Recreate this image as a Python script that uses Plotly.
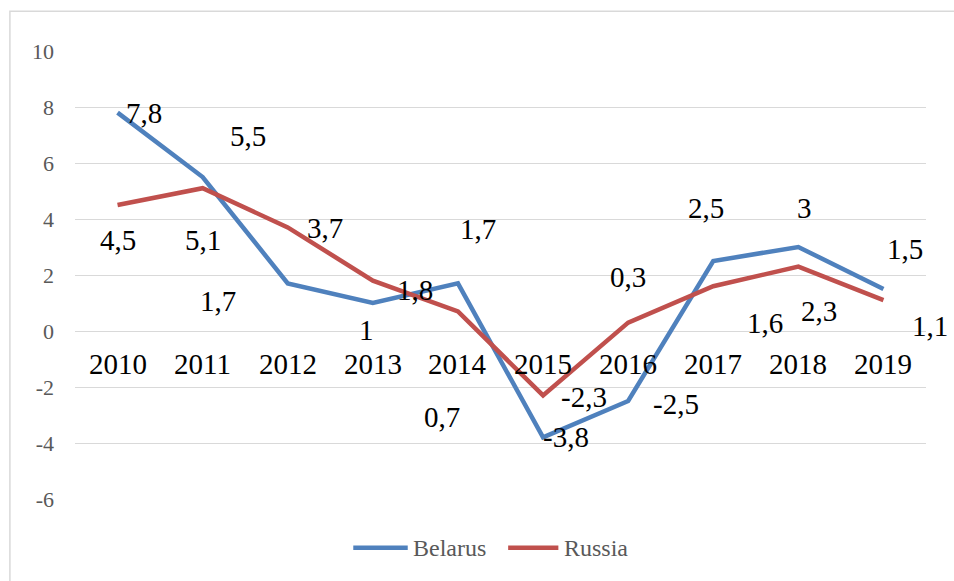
import plotly.graph_objects as go

years = ['2010', '2011', '2012', '2013', '2014', '2015', '2016', '2017', '2018', '2019']
belarus = [7.8, 5.5, 1.7, 1.0, 1.7, -3.8, -2.5, 2.5, 3.0, 1.5]
russia = [4.5, 5.1, 3.7, 1.8, 0.7, -2.3, 0.3, 1.6, 2.3, 1.1]
y_ticks = [-6, -4, -2, 0, 2, 4, 6, 8, 10]

# where Excel dropped the data labels, pixel offsets from each point
bel_shift = [(26, 0), (45, 41), (-70, -18), (-6, -27), (20, 54), (23, 0), (48, -3), (-7, 53), (6, 39), (22, 40)]
rus_shift = [(0, -35), (0, -52), (37, -1), (42, -9), (-16, -106), (41, -2), (0, 46), (52, -37), (21, -44), (47, -26)]

serif = 'Times New Roman, Liberation Serif, serif'
blue, red = '#4F81BD', '#C0504D'
xs = list(range(len(years)))

fig = go.Figure()
fig.add_trace(go.Scatter(x=xs, y=belarus, name='Belarus', mode='lines',
                         line=dict(color=blue, width=4.5)))
fig.add_trace(go.Scatter(x=xs, y=russia, name='Russia', mode='lines',
                         line=dict(color=red, width=4.5)))


def fmt(v):
    return ('%g' % v).replace('.', ',')


anns = []
for vals, shifts in [(belarus, bel_shift), (russia, rus_shift)]:
    for i, v, (dx, dy) in zip(xs, vals, shifts):
        anns.append(dict(x=i, y=v, text=fmt(v), showarrow=False,
                         xshift=dx, yshift=dy,
                         font=dict(family=serif, size=29, color='black')))

# category labels sit on the zero line, like Excel's axis crossing
for i, yr in zip(xs, years):
    anns.append(dict(x=i, y=0, text=yr, showarrow=False, yanchor='middle',
                     yshift=-33, font=dict(family=serif, size=29, color='black')))

# legend drawn by hand, Excel's line samples are longer than plotly's
shapes = [dict(type='rect', xref='paper', yref='paper',
               x0=-0.0765, x1=1.05, y0=-0.21, y1=1.089,
               line=dict(color='#D9D9D9', width=1.5))]
for name, col, x0, x1 in [('Belarus', blue, 0.327, 0.391), ('Russia', red, 0.509, 0.568)]:
    shapes.append(dict(type='line', xref='paper', yref='paper', x0=x0, x1=x1,
                       y0=-0.109, y1=-0.109, line=dict(color=col, width=4.5)))
    anns.append(dict(xref='paper', yref='paper', x=x1 + 0.004, y=-0.109, text=name,
                     xanchor='left', yanchor='middle', showarrow=False,
                     font=dict(family=serif, size=24, color='#595959')))

fig.update_layout(
    width=954, height=581,
    margin=dict(l=75, r=28, t=51, b=82),
    plot_bgcolor='white', paper_bgcolor='white',
    font=dict(family=serif),
    annotations=anns,
    shapes=shapes,
    showlegend=False,
)
fig.update_xaxes(showticklabels=False, showgrid=False, zeroline=False,
                 showline=False, range=[-0.5, 9.5])
fig.update_yaxes(range=[-6, 10], tickvals=y_ticks, ticktext=[str(t) for t in y_ticks],
                 showgrid=True, gridcolor='#D9D9D9',
                 gridwidth=1, zeroline=False, showline=False,
                 tickfont=dict(family=serif, size=22, color='#595959'),
                 ticklabelstandoff=20)

fig.write_html("out.html", config={'displayModeBar': False},
               post_script="document.body.style.margin='0';")
